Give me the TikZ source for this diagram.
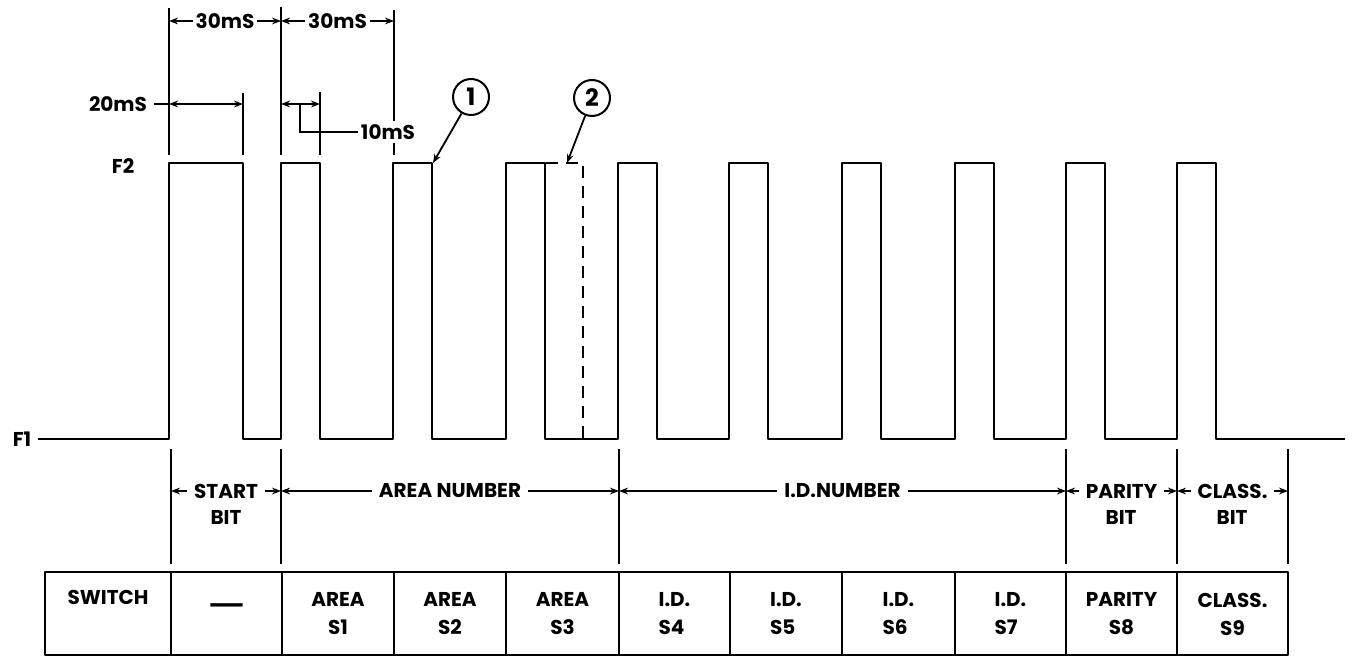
\documentclass[tikz,border=0pt]{standalone}
\usepackage{fontspec}
\setmainfont{Poppins}
\usepackage{tikz}
\usetikzlibrary{arrows.meta, positioning}

\begin{document}
\begin{tikzpicture}[x=0.5pt,y=-0.5pt,>={Stealth[length=4.5pt,width=3.4pt]},
    font=\bfseries\fontsize{10}{12}\selectfont,
    wave/.style={line width=1.3pt, line join=round},
    dim/.style={line width=0.9pt},
    lbl/.style={fill=white, inner sep=1.5pt},
    marker/.style={circle, draw, line width=1pt, minimum size=18pt, inner sep=0pt},
    cell/.style={align=center, inner sep=0pt}]

    \useasboundingbox (0,0) rectangle (1352,657);

    % levels and pulse train
    \node (F2) at (123,166) {F2};
    \node (F1) at (22,439) {F1};
    \draw[wave] (F1.east) -- (169,439) -- (169,163) -- (243,163) -- (243,439)
        \foreach \l in {281,393,506,618,729,842,955,1066,1177} {
            -- (\l,439) -- (\l,163) -- ({\l+39},163) -- ({\l+39},439) }
        -- (1345,439);
    \draw[wave, dash pattern=on 6pt off 4pt] (546,163) -- (583,163) -- (583,439);

    % timing
    \draw[dim] (169,8) -- (169,155);
    \draw[dim] (281,7) -- (281,155);
    \draw[dim] (394,10) -- (394,155);
    \draw[dim] (243,93) -- (243,155);
    \draw[dim] (320,92) -- (320,155);
    \draw[dim,<->] (169,21) -- node[lbl] {30mS} (281,21);
    \draw[dim,<->] (281,21) -- node[lbl] {30mS} (394,21);
    \node (t_20) at (118,104) {20mS};
    \draw[dim] (t_20.east) -- (169,104);
    \draw[dim,<->] (169,104) -- (243,104);
    \draw[dim,<->] (281,104) -- (320,104);
    \node[lbl] (t_10) at (388,132) {10mS};
    \draw[dim] (300,104) -- (300,132) -- (t_10.west);

    % callouts
    \node[marker] (c_1) at (471,97) {\fontsize{12}{12}\selectfont 1};
    \node[marker] (c_2) at (592,98) {\fontsize{12}{12}\selectfont 2};
    \coordinate (p_1) at (433,163);
    \coordinate (p_2) at (567,163);
    \draw[dim,->] (c_1) -- (p_1);
    \draw[dim,->] (c_2) -- (p_2);

    % fields
    \foreach \x in {171,281,619,1066,1177,1288}
        \draw[dim] (\x,449) -- (\x,564);
    \foreach \a/\b/\t/\n in {171/281/START/start, 281/619/AREA NUMBER/area,
            619/1066/I.D.NUMBER/id, 1066/1177/PARITY/parity, 1177/1288/CLASS./class} {
        \node (s_\n) at ({(\a+\b)/2},491) {\t};
        \draw[dim,->] (s_\n.west) -- (\a,491);
        \draw[dim,->] (s_\n.east) -- (\b,491);
    }
    \foreach \n/\x in {start/226, parity/1121, class/1232}
        \node (b_\n) at (\x,517) {BIT};

    % switch table
    \draw[wave] (45,572) rectangle (1288,655);
    \foreach \x in {171,282,394,506,619,730,842,955,1066,1177}
        \draw[wave] (\x,572) -- (\x,655);
    \node (sw) at (108,597) {SWITCH};
    \node (sw_0) at (227,613) {\mdseries\fontsize{22}{22}\selectfont ---};
    \foreach \a/\b/\t/\n in {282/394/AREA/S1, 394/506/AREA/S2, 506/619/AREA/S3,
            1066/1177/PARITY/S8, 1177/1288/CLASS./S9}
        \node[cell] (k_\n) at ({(\a+\b)/2},614) {\t\\[2pt]\n};
    \foreach \a/\b/\n in {619/730/S4, 730/842/S5, 842/955/S6, 955/1066/S7}
        \node[cell, align=left] (k_\n) at ({(\a+\b)/2},614) {I.D.\\[2pt]\n};
\end{tikzpicture}
\end{document}
